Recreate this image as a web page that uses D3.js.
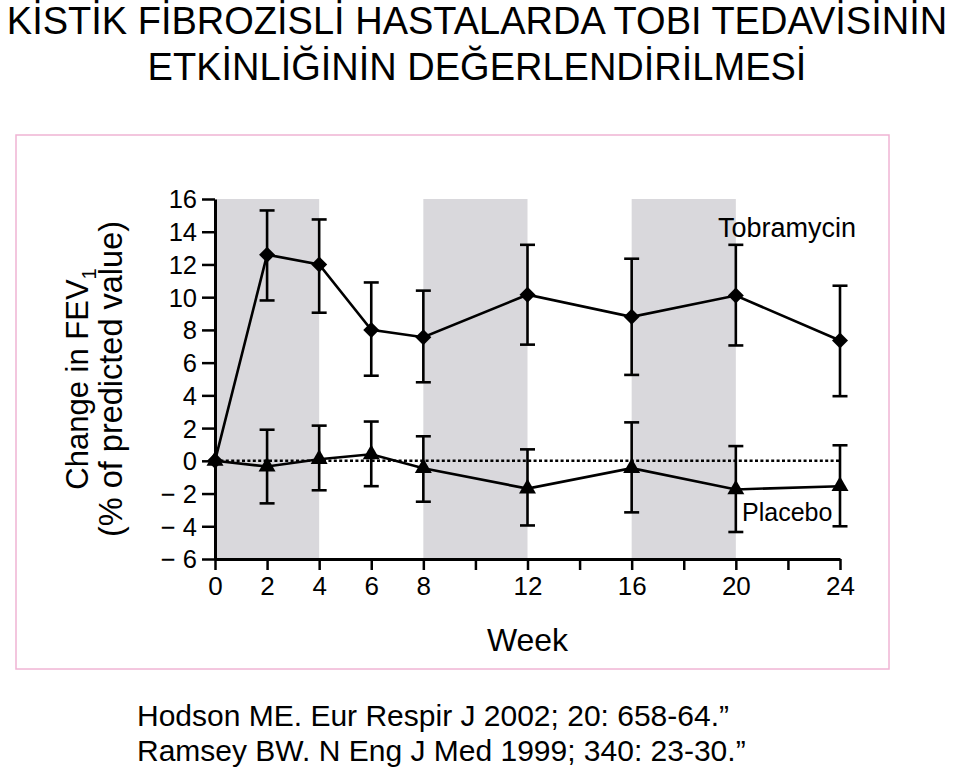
<!DOCTYPE html>
<html>
<head>
<meta charset="utf-8">
<script src="https://cdn.jsdelivr.net/npm/d3@7"></script>
<style>
  html, body { margin: 0; padding: 0; background: #ffffff; }
  svg { display: block; }
  text { font-family: "Liberation Sans", Arial, Helvetica, sans-serif; fill: #000; }
</style>
</head>
<body>
<script>
// ---- Data ----
const titleLines = ["KİSTİK FİBROZİSLİ HASTALARDA TOBI TEDAVİSİNİN", "ETKİNLİĞİNİN DEĞERLENDİRİLMESİ"];
const footerLines = ["Hodson ME. Eur Respir J 2002; 20: 658-64.”", "Ramsey BW. N Eng J Med 1999; 340: 23-30.”"];

const weeks = [0, 2, 4, 6, 8, 12, 16, 20, 24];
const tobraMean = [0, 12.6, 12.0, 8.0, 7.55, 10.15, 8.8, 10.1, 7.35];
const tobraLow  = [null, 9.8, 9.05, 5.2, 4.8, 7.1, 5.25, 7.05, 3.95];
const tobraHigh = [null, 15.3, 14.75, 10.9, 10.4, 13.2, 12.35, 13.2, 10.7];
const placeboMean = [0, -0.35, 0.1, 0.4, -0.45, -1.7, -0.45, -1.75, -1.55];
const placeboLow  = [null, -2.6, -1.8, -1.55, -2.5, -3.95, -3.15, -4.35, -4.0];
const placeboHigh = [null, 1.9, 2.15, 2.4, 1.5, 0.7, 2.35, 0.9, 0.95];

const bandStarts = [0, 8, 16];
const bandEnds = [4, 12, 20];
const yTicks = [-6, -4, -2, 0, 2, 4, 6, 8, 10, 12, 14, 16];
const xTicks = [0, 2, 4, 6, 8, 10, 12, 14, 16, 18, 20, 22, 24];
const xTickLabels = [0, 2, 4, 6, 8, 12, 16, 20, 24];
const seriesNames = ["Tobramycin", "Placebo"];
const xTitle = "Week";
const yTitle1 = "Change in FEV";
const yTitle1Sub = "1";
const yTitle2 = "(% of predicted value)";

// ---- Layout ----
const W = 960, H = 767;
const svg = d3.select("body").append("svg").attr("width", W).attr("height", H);

const x = d3.scaleLinear().domain([0, 24]).range([215, 840]);
const y = d3.scaleLinear().domain([-6, 16]).range([559, 199]);

// Title
svg.append("g").selectAll("text").data(titleLines).join("text")
  .attr("x", 477).attr("y", (d, i) => 34 + i * 46)
  .attr("text-anchor", "middle")
  .style("font-size", "38px")
  .text(d => d);

// Pink frame
svg.append("rect").attr("x", 16).attr("y", 135).attr("width", 873).attr("height", 534)
  .attr("fill", "none").attr("stroke", "#f0b4d4").attr("stroke-width", 1.5);

// Bands
svg.append("g").selectAll("rect").data(bandStarts).join("rect")
  .attr("x", (d) => x(d))
  .attr("y", y(16))
  .attr("width", (d, i) => x(bandEnds[i]) - x(d))
  .attr("height", y(-6) - y(16))
  .attr("fill", "#d9d8dc");

// Zero dotted line
svg.append("line")
  .attr("x1", x(0)).attr("x2", x(24)).attr("y1", y(0)).attr("y2", y(0))
  .attr("stroke", "#000").attr("stroke-width", 2.5).attr("stroke-dasharray", "3,2.4");

// Axes
const yAxis = d3.axisLeft(y).tickValues(yTicks).tickSize(13).tickSizeOuter(0).tickPadding(5)
  .tickFormat(d => d < 0 ? "\u2212 " + (-d) : String(d));
const gy = svg.append("g").attr("transform", `translate(${x(0)},0)`).call(yAxis);
const xAxis = d3.axisBottom(x).tickValues(xTicks).tickSize(11).tickSizeOuter(0).tickPadding(7)
  .tickFormat(d => xTickLabels.includes(d) ? String(d) : "");
const gx = svg.append("g").attr("transform", `translate(0,${y(-6)})`).call(xAxis);
[gx, gy].forEach(g => {
  g.select(".domain").attr("stroke", "#000").attr("stroke-width", 3);
  g.selectAll(".tick line").attr("stroke", "#000").attr("stroke-width", 2.5);
  g.selectAll(".tick text").style("font-size", "26px").style("font-family", '"Liberation Sans", Arial, sans-serif').attr("fill", "#000");
});
gy.selectAll(".tick text").style("font-size", "25.5px").attr("dy", "0.35em");

// Axis titles
svg.append("text").attr("x", x(12)).attr("y", 651).attr("text-anchor", "middle")
  .style("font-size", "32px").text(xTitle);

const yt = svg.append("g").attr("transform", "translate(0,379) rotate(-90)");
const t1 = yt.append("text").attr("x", 0).attr("y", 88).attr("text-anchor", "middle").style("font-size", "31px");
t1.append("tspan").text(yTitle1);
t1.append("tspan").attr("dy", 8).style("font-size", "20px").text(yTitle1Sub);
yt.append("text").attr("x", 0).attr("y", 122).attr("text-anchor", "middle").style("font-size", "32.5px").text(yTitle2);

// Series drawing
const line = d3.line().x(d => x(d[0])).y(d => y(d[1]));
function drawSeries(mean, low, high, symbolType, size, rotate) {
  const g = svg.append("g");
  const pts = weeks.map((w, i) => [w, mean[i]]);
  g.append("path").attr("d", line(pts)).attr("fill", "none").attr("stroke", "#000").attr("stroke-width", 2.6);
  const eb = weeks.map((w, i) => ({w, lo: low[i], hi: high[i]})).filter(d => d.lo !== null);
  g.selectAll("line.v").data(eb).join("line").attr("class", "v")
    .attr("x1", d => x(d.w)).attr("x2", d => x(d.w)).attr("y1", d => y(d.lo)).attr("y2", d => y(d.hi))
    .attr("stroke", "#000").attr("stroke-width", 2.6);
  ["lo", "hi"].forEach(k => {
    g.selectAll("line." + k).data(eb).join("line").attr("class", k)
      .attr("x1", d => x(d.w) - 7.5).attr("x2", d => x(d.w) + 7.5)
      .attr("y1", d => y(d[k])).attr("y2", d => y(d[k]))
      .attr("stroke", "#000").attr("stroke-width", 2.6);
  });
  const sym = d3.symbol().type(symbolType).size(size);
  g.selectAll("path.m").data(pts).join("path").attr("class", "m")
    .attr("d", sym)
    .attr("transform", d => `translate(${x(d[0])},${y(d[1])}) rotate(${rotate})`)
    .attr("fill", "#000");
}
drawSeries(tobraMean, tobraLow, tobraHigh, d3.symbolSquare, 128, 45);
drawSeries(placeboMean, placeboLow, placeboHigh, d3.symbolTriangle, 125, 0);

// Series labels
svg.append("text").attr("x", 856).attr("y", 237).attr("text-anchor", "end")
  .style("font-size", "27px").text(seriesNames[0]);
svg.append("text").attr("x", 742).attr("y", 521).attr("text-anchor", "start")
  .style("font-size", "25px").text(seriesNames[1]);

// Footer
svg.append("g").selectAll("text").data(footerLines).join("text")
  .attr("x", 137).attr("y", (d, i) => 726 + i * 35)
  .style("font-size", "30px")
  .text(d => d);
</script>
</body>
</html>
